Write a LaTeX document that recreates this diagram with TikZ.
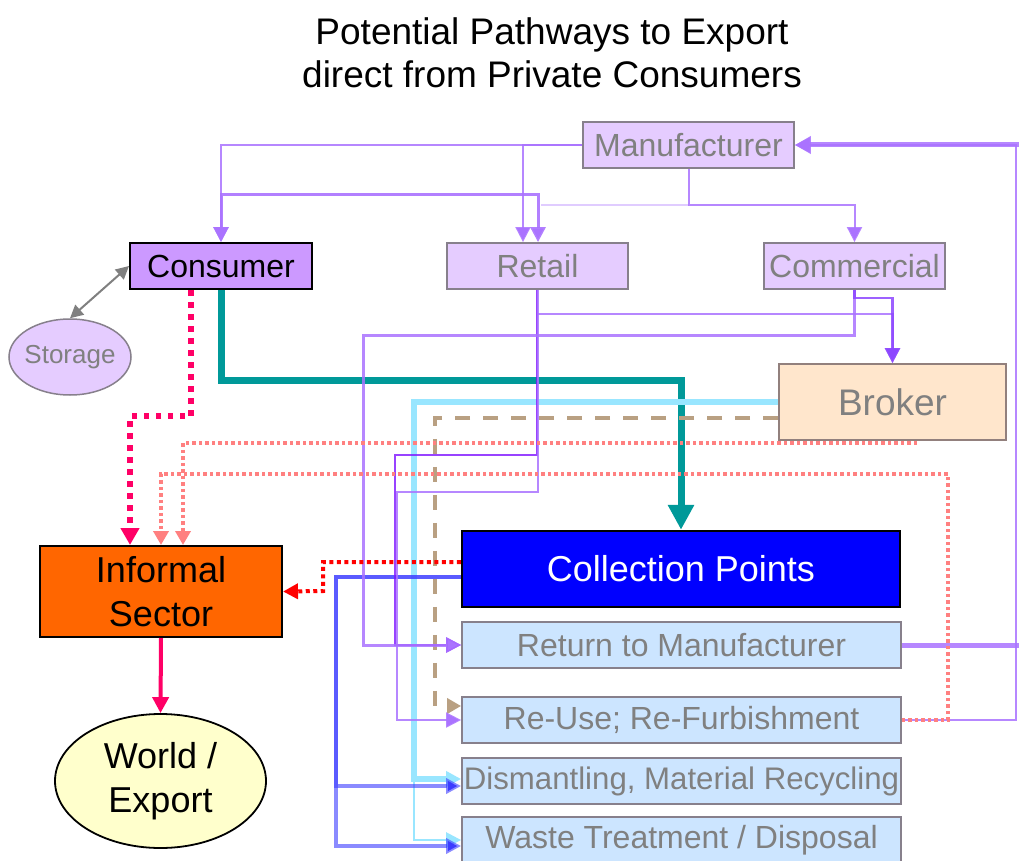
\documentclass[tikz,border=0pt]{standalone}
\usepackage{fontspec}
\setmainfont{Liberation Sans}
\usetikzlibrary{arrows.meta,shapes.geometric}
\definecolor{lav}{RGB}{229,204,255}
\definecolor{lavdark}{RGB}{204,153,255}
\definecolor{boxgray}{RGB}{135,128,140}
\definecolor{txtgray}{RGB}{128,128,128}
\definecolor{peach}{RGB}{255,230,204}
\definecolor{lblue}{RGB}{204,229,255}
\definecolor{ora}{RGB}{255,102,0}
\definecolor{cream}{RGB}{255,255,204}
\definecolor{pA}{RGB}{170,115,255}
\definecolor{pB}{RGB}{140,70,255}
\definecolor{pC}{RGB}{127,20,255}
\definecolor{pfaint}{RGB}{224,204,255}
\definecolor{tealc}{RGB}{0,153,153}
\definecolor{cyanc}{RGB}{153,230,255}
\definecolor{bluec}{RGB}{60,60,255}
\definecolor{mag}{RGB}{255,0,102}
\definecolor{pinkc}{RGB}{255,128,128}
\definecolor{tanc}{RGB}{185,160,130}
\begin{document}
\begin{tikzpicture}[x=1pt,y=-1pt,
  every node/.style={inner sep=0pt, align=center},
  topbox/.style={draw=boxgray, line width=1.8pt, fill=lav, text=txtgray, font=\fontsize{32}{36}\selectfont, minimum height=46pt},
  lowbox/.style={draw=boxgray, line width=1.8pt, fill=lblue, text=txtgray, font=\fontsize{32}{36}\selectfont, minimum width=439pt, minimum height=46pt},
  tri/.style={-{Triangle[length=15pt,width=15pt]}},
  pthin/.style={draw=pA, line width=2pt, draw opacity=0.85, tri},
  pdark/.style={draw=pC, line width=2.2pt, draw opacity=0.8, tri},
  pmed/.style={draw=pB, line width=2.5pt, draw opacity=0.85, tri},
  pinkdot/.style={draw=pinkc, line width=3.5pt, dash pattern=on 3.5pt off 3pt, -{Triangle[length=14pt,width=15pt]}}
]
\useasboundingbox (0,0) rectangle (1019,861);
\fill[white] (0,0) rectangle (1019,861);

% title
\node[font=\fontsize{37}{43}\selectfont] (title) at (552,53) {Potential Pathways to Export\\ direct from Private Consumers};

% nodes
\node[topbox, minimum width=211pt] (man) at (688.5,145) {Manufacturer};
\node[draw=black, line width=2pt, fill=lavdark, font=\fontsize{32}{36}\selectfont, minimum width=182pt, minimum height=46pt] (con) at (221,266) {Consumer};
\node[topbox, minimum width=181pt] (ret) at (537.5,266) {Retail};
\node[topbox, minimum width=181pt] (com) at (854.5,266) {Commercial};
\node[draw=boxgray!80!brown, line width=1.8pt, fill=peach, text=txtgray, font=\fontsize{37}{40}\selectfont, minimum width=227pt, minimum height=76pt] (bro) at (892.5,402) {Broker};
\node[ellipse, draw=boxgray, line width=1.5pt, fill=lav, text=txtgray, font=\fontsize{26}{30}\selectfont, minimum width=122pt, minimum height=76pt] (sto) at (70,357) {\makebox[0pt]{Storage}};
\node[draw=black, line width=2pt, fill=ora, font=\fontsize{36}{44}\selectfont, minimum width=242pt, minimum height=91pt] (inf) at (161,591.5) {Informal\\Sector};
\node[ellipse, draw=black, line width=1.8pt, fill=cream, font=\fontsize{36}{44}\selectfont, minimum width=211pt, minimum height=134pt] (wor) at (160.5,781) {World /\\Export};
\node[draw=black, line width=2.5pt, fill=blue, text=white, font=\fontsize{36}{40}\selectfont, minimum width=438pt, minimum height=76pt] (col) at (681,569) {Collection Points};
\node[lowbox] (rtm) at (681.5,645) {Return to Manufacturer};
\node[lowbox] (reu) at (681.5,720) {Re-Use; Re-Furbishment};
\node[lowbox, font=\fontsize{31.2}{36}\selectfont] (dis) at (681.5,781) {Dismantling, Material Recycling};
\node[lowbox] (was) at (681.5,840) {Waste Treatment / Disposal};

% teal consumer -> collection
\draw[draw=tealc, line width=7pt, -{Triangle[length=25pt,width=25pt]}] (con.south) -- ++(0,90) -| (col.north);

% cyan broker -> dismantling / waste
\coordinate (cyb) at (414,781);
\draw[draw=cyanc, line width=2.5pt, -{Triangle[length=15pt,width=15pt]}] (cyb) |- (was.west);
\draw[draw=cyanc, line width=6pt, -{Triangle[length=15pt,width=15pt]}] (bro.west) -| (414,779) -- ([yshift=2pt]dis.west);

% blue collection -> dismantling / waste
\draw[draw=bluec, draw opacity=0.6, line width=3.5pt, -{Triangle[length=15pt,width=15pt]}] ([yshift=-8pt]col.west) -| (336,786) -- ([yshift=-5pt]dis.west);
\draw[draw=bluec, draw opacity=0.6, line width=3.5pt, -{Triangle[length=15pt,width=15pt]}] ([yshift=-8pt]col.west) -| (336,846) -- ([yshift=-6pt]was.west);

% tan dashed broker -> re-use
\draw[draw=tanc, line width=4pt, dash pattern=on 15pt off 13pt, -{Triangle[length=14pt,width=15pt]}] ([yshift=-16pt]bro.west) -| (435,706) -- ([yshift=14pt]reu.west);

% purple manufacturer lines
\draw[pthin] (man.west) -| (con.north);
\draw[pthin] (man.west) -| ([xshift=-14.5pt]ret.north);
\draw[draw=pfaint, line width=2pt] ([yshift=-36pt]man.south) -- ++(-148,0);
\draw[draw=pA, line width=3pt, draw opacity=0.9, {Triangle[length=15pt,width=15pt]}-{Triangle[length=15pt,width=15pt]}] (con.north) -- ++(0,-48) -| ([xshift=0.5pt]ret.north);
\draw[pthin] (man.south) -- ++(0,36) -| (com.north);

% retail lines
\draw[pdark] ([xshift=-0.5pt]ret.south) |- (395,455) |- (rtm.west);
\draw[pthin] ([xshift=0.5pt]ret.south) |- (397,492) |- (reu.west);
\draw[pthin] ([yshift=-24pt]ret.south) -| (bro.north);

% commercial lines
\draw[draw=pA, line width=3pt, draw opacity=0.85, tri] (com.south) |- (363,335) |- (rtm.west);
\draw[pmed] (com.south) -- ++(0,8) -| (bro.north);

% back to manufacturer
\draw[draw=pA, line width=5pt, draw opacity=0.85, -{Triangle[length=16pt,width=17pt]}] (rtm.east) -- (1030,645) |- (man.east);
\draw[pthin] (reu.east) -| (1016,145) -- (man.east);

% storage
\draw[draw=txtgray, line width=2pt, {Triangle[length=13pt,width=13pt]}-{Triangle[length=13pt,width=13pt]}] (sto.north) -- (con.west);

% dotted to informal
\draw[draw=mag, line width=5.5pt, dash pattern=on 5.5pt off 6.5pt, -{Triangle[length=17pt,width=18pt]}] ([xshift=-30pt]con.south) -- ++(0,126) -| ([xshift=-31pt]inf.north);
\draw[pinkdot] ([xshift=24.5pt,yshift=-2pt]bro.south) -| ([xshift=22pt]inf.north);
\draw[pinkdot] (reu.east) -| (948,474) -| (inf.north);
\draw[draw=red, line width=4pt, dash pattern=on 4pt off 3.5pt, -{Triangle[length=15pt,width=15pt]}] ([yshift=7pt]col.west) -| (323,591) -- (inf.east);

% informal -> world
\draw[draw=mag, line width=4pt, -{Triangle[length=16pt,width=16pt]}] (inf.south) -- (wor.north);
\end{tikzpicture}
\end{document}
